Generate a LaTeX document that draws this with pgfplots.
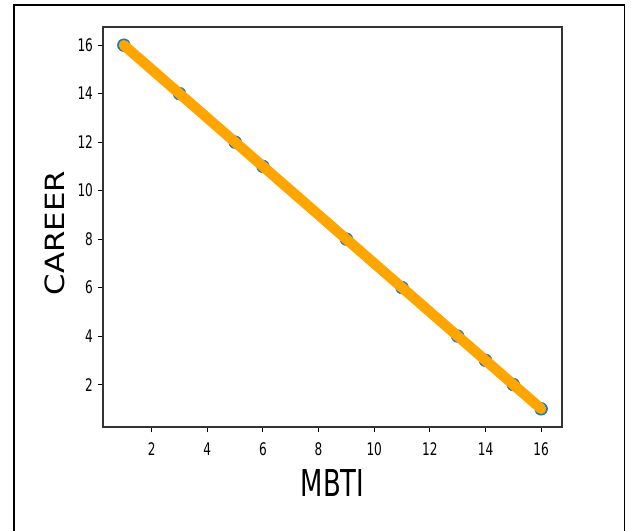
\documentclass[border=0pt]{standalone}
\usepackage{fontspec}
\setmainfont{DejaVu Sans}
\newfontfamily\cfont[FakeStretch=0.7]{DejaVu Sans}
\usepackage{graphicx}
\usepackage{pgfplots}
\pgfplotsset{compat=1.18}
\definecolor{mplblue}{HTML}{1F77B4}
\definecolor{mplorange}{HTML}{FFA500}

\begin{document}
\begin{tikzpicture}
% picture size follows the 631x531 screenshot (0.75pt per pixel)
\useasboundingbox (-77.25pt,-78pt) rectangle (396pt,320.25pt);
\draw[line width=1.1pt] (-66.75pt,-80pt) -- (-66.75pt,316.5pt) -- (391.1pt,316.5pt) -- (391.1pt,-80pt);
\begin{axis}[
    at={(0,0)}, anchor=south west,
    width=344.25pt, height=300pt, scale only axis,
    xmin=0.25, xmax=16.75, ymin=0.25, ymax=16.75,
    xtick={2,4,...,16}, ytick={2,4,...,16},
    tick align=outside, xtick pos=bottom, ytick pos=left,
    major tick length=4pt,
    tick style={black, line width=0.8pt},
    axis line style={black!80, line width=1pt},
    clip marker paths=true,
    /pgf/number format/assume math mode=true,
    ticklabel style={font=\cfont\fontsize{13}{14}\selectfont},
    xticklabel style={yshift=-4pt},
    xlabel={\cfont\fontsize{27.75}{30}\selectfont MBTI},
    ylabel={\scalebox{1}[0.86]{\fontsize{23.1}{26}\selectfont CAREER}},
    xlabel style={at={(axis description cs:0.5,-0.14)}, anchor=center},
    ylabel style={at={(axis description cs:-0.1046,0.485)}, anchor=center},
]
\addplot[mplblue, only marks, mark=*, mark size=4.8pt] coordinates {
    (1,16) (3,14) (5,12) (6,11) (9,8) (11,6) (13,4) (14,3) (15,2) (16,1)
};
\addplot[mplorange, line width=7.8pt, line cap=round, line join=round] coordinates {
    (1,16) (3,14) (5,12) (6,11) (9,8) (11,6) (13,4) (14,3) (15,2) (16,1)
};
\end{axis}
\end{tikzpicture}
\end{document}
